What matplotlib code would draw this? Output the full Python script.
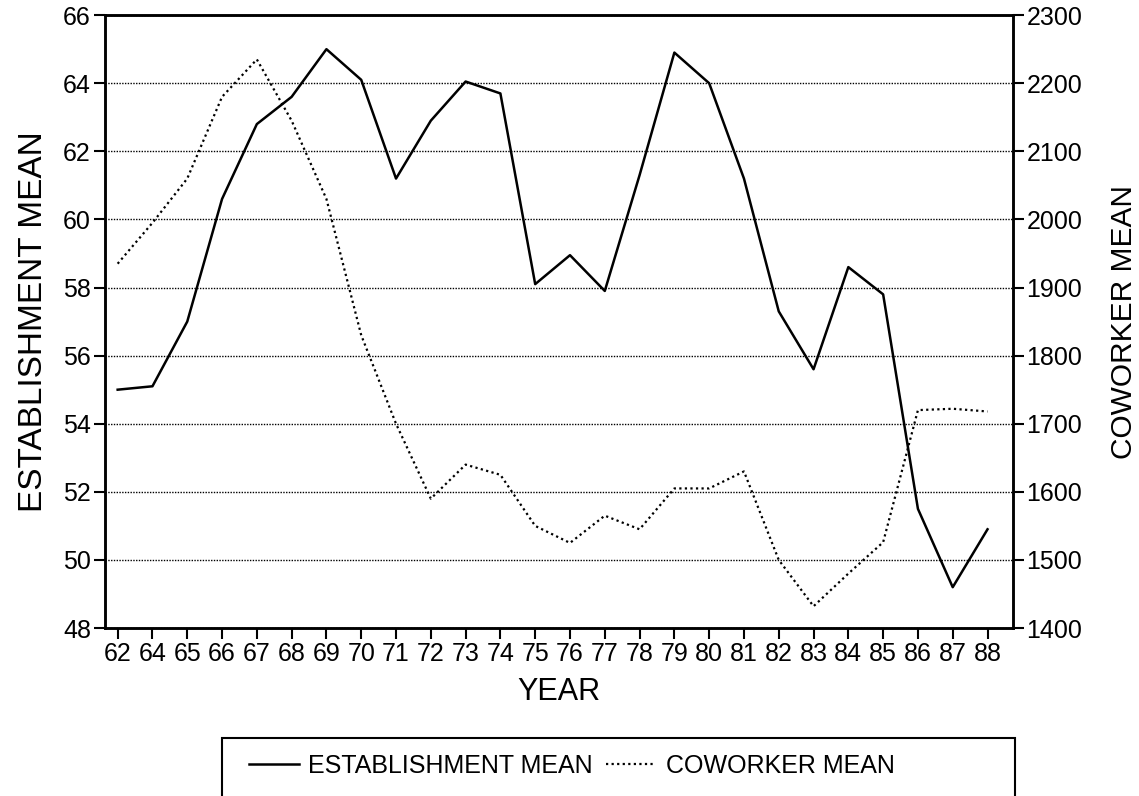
"""
    Gráfico de medias por año: establecimiento (eje izquierdo) y compañeros (eje derecho)
"""
import matplotlib.pyplot as plt
from matplotlib.patches import Rectangle

plt.rcParams['font.family'] = ['Liberation Sans', 'DejaVu Sans']

years = ['62', '64', '65', '66', '67', '68', '69', '70', '71', '72', '73', '74', '75',
         '76', '77', '78', '79', '80', '81', '82', '83', '84', '85', '86', '87', '88']
establishment = [55.0, 55.1, 57.0, 60.6, 62.8, 63.6, 65.0, 64.1, 61.2, 62.9, 64.05, 63.7, 58.1,
                 58.95, 57.9, 61.3, 64.9, 64.0, 61.2, 57.3, 55.6, 58.6, 57.8, 51.5, 49.2, 50.9]
coworker = [1935, 1995, 2060, 2180, 2235, 2145, 2030, 1830, 1700, 1590, 1640, 1625, 1550,
            1525, 1565, 1545, 1605, 1605, 1630, 1500, 1432, 1480, 1526, 1720, 1722, 1718]

left_ticks = list(range(48, 67, 2))
right_ticks = list(range(1400, 2301, 100))

fig = plt.figure(figsize=(11.39, 7.96), dpi=100)
ax = fig.add_axes([0.092, 0.211, 0.797, 0.77])
x = list(range(len(years)))

# Serie del establecimiento (línea continua)
ax.plot(x, establishment, color='black', lw=1.8, label='ESTABLISHMENT MEAN')
ax.set_ylim(48, 66)
ax.set_yticks(left_ticks)
ax.set_xlim(-0.37, len(years) - 0.28)
ax.set_xticks(x)
ax.set_xticklabels(years)
ax.grid(True, axis='y', color='black', linestyle=(0, (1, 1)), lw=1.0)
ax.set_xlabel('YEAR', fontsize=22, labelpad=8)
ax.set_ylabel('ESTABLISHMENT MEAN', fontsize=24, labelpad=10)

# Serie de compañeros en el eje derecho (línea punteada)
ax2 = ax.twinx()
ax2.plot(x, coworker, color='black', lw=1.6, linestyle=(0, (1, 1.5)), label='COWORKER MEAN')
ax2.set_ylim(1400, 2300)
ax2.set_yticks(right_ticks)
ax2.set_ylabel('COWORKER MEAN', fontsize=21.5, labelpad=20)

for a in (ax, ax2):
    a.tick_params(labelsize=18, length=8, width=1.5, direction='out', pad=2)
    for s in a.spines.values():
        s.set_linewidth(1.8)

# Leyenda con su marco dibujado a mano
h1, l1 = ax.get_legend_handles_labels()
h2, l2 = ax2.get_legend_handles_labels()
fig.legend(h1 + h2, l1 + l2, loc='center left', bbox_to_anchor=(226 / 1139, 1 - 766 / 796),
           ncol=2, frameon=False, fontsize=18, handlelength=2.0, handletextpad=0.4,
           columnspacing=0.5)
fig.patches.append(Rectangle((222 / 1139, -0.01), (1015 - 222) / 1139, (806 - 740) / 796,
                             transform=fig.transFigure, fill=False, edgecolor='black', lw=1.5))

plt.savefig('out.png', dpi=100)
